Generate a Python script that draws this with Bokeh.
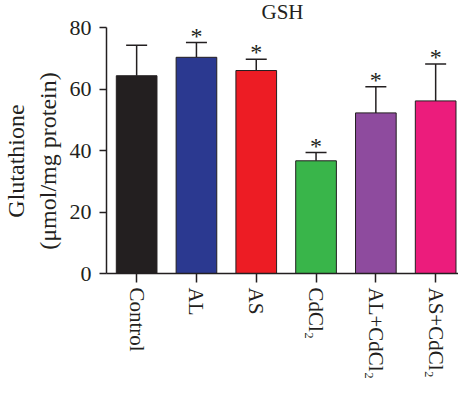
import numpy as np
from bokeh.plotting import figure
from bokeh.models import ColumnDataSource, Whisker, FixedTicker, TeeHead, Range1d, LabelSet, Label
from bokeh.core.properties import value
from bokeh.embed import file_html
from bokeh.resources import INLINE

title = "GSH"
y_label_lines = ["Glutathione", "(μmol/mg protein)"]
categories = ["Control", "AL", "AS", "CdCl₂", "AL+CdCl₂", "AS+CdCl₂"]
means = [64.4, 70.4, 66.1, 36.7, 52.3, 56.2]
errors = [9.9, 4.8, 3.7, 2.7, 8.5, 12.0]
significant = [False, True, True, True, True, True]
colors = ["#231f20", "#2b3990", "#ed1c24", "#39b54a", "#8e4b9e", "#ec1c7c"]
y_ticks = [0, 20, 40, 60, 80]

FONT = "Liberation Serif"
X0, X1 = -0.504, 5.382
Y_TOP = 88.9

xs = list(range(len(categories)))
upper = [m + e for m, e in zip(means, errors)]
src = ColumnDataSource(dict(x=xs, top=means, upper=upper, color=colors))

p = figure(width=458, height=382, output_backend="svg", toolbar_location=None,
           x_range=Range1d(X0, X1), y_range=Range1d(0, Y_TOP),
           min_border_left=96, min_border_right=0,
           min_border_top=0, min_border_bottom=0)

p.vbar(x="x", top="top", width=0.68, fill_color="color", line_color="#231f20",
       line_width=1, source=src)

w = Whisker(base="x", lower="top", upper="upper", source=src,
            line_color="#231f20", line_width=1.5,
            upper_head=TeeHead(size=21, line_color="#231f20", line_width=1.5),
            lower_head=None)
p.add_layout(w)

ax = [x for x, s in zip(xs, significant) if s]
ay = [u for u, s in zip(upper, significant) if s]
star_src = ColumnDataSource(dict(x=ax, y=ay, t=["*"] * len(ax)))
stars = LabelSet(x="x", y="y", text="t", source=star_src, text_align="center",
                 text_baseline="alphabetic", y_offset=-1, text_font=FONT,
                 text_font_size="24px", text_color="#231f20")
p.add_layout(stars)

p.add_layout(Label(x=(X0 + X1) / 2, y=85.0, text=title, text_align="center",
                   text_baseline="alphabetic", text_font=FONT,
                   text_font_size="21px", text_color="#231f20"))

p.xgrid.visible = False
p.ygrid.visible = False
p.outline_line_color = None
p.background_fill_color = "white"

p.xaxis.ticker = FixedTicker(ticks=xs)
p.xaxis.major_label_overrides = {i: c for i, c in enumerate(categories)}
p.xaxis.major_label_orientation = "vertical"
p.yaxis.ticker = FixedTicker(ticks=y_ticks)
p.yaxis.bounds = (0, 80)

for axis in (p.xaxis, p.yaxis):
    axis.axis_line_color = "#231f20"
    axis.axis_line_width = 1.5
    axis.major_tick_line_color = "#231f20"
    axis.major_tick_line_width = 1.5
    axis.minor_tick_line_color = None
    axis.major_label_text_font = FONT
    axis.major_label_text_color = "#231f20"

p.xaxis.major_label_text_font_size = "21px"
p.yaxis.major_label_text_font_size = "22px"
p.xaxis.major_tick_in = 0
p.xaxis.major_tick_out = 9
p.yaxis.major_tick_in = 0
p.yaxis.major_tick_out = 7
p.xaxis.major_label_standoff = 5
p.yaxis.major_label_standoff = 8

pad = "\u00a0" * 8
p.yaxis.axis_label = "\n".join(line + pad for line in y_label_lines)
p.yaxis.axis_label_text_font = FONT
p.yaxis.axis_label_text_font_style = "normal"
p.yaxis.axis_label_text_font_size = "24px"
p.yaxis.axis_label_text_color = "#231f20"
p.yaxis.axis_label_standoff = 6

open("out.html", "w").write(file_html(p, INLINE))
